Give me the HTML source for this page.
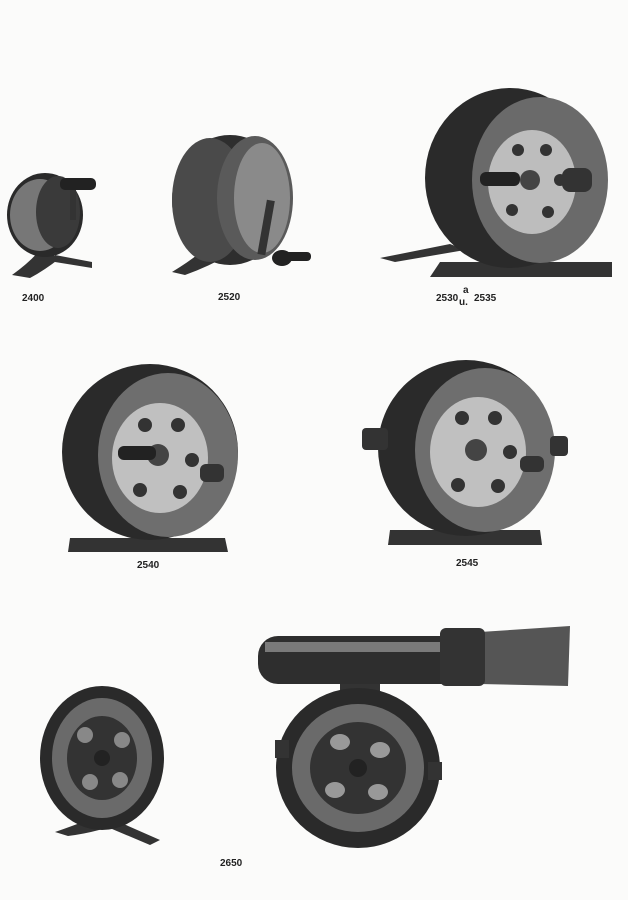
<!DOCTYPE html>
<html><head><meta charset="utf-8"><style>
html,body{margin:0;padding:0;background:#fbfbfa;}
svg{display:block}
text{font-family:"Liberation Sans",sans-serif;font-weight:bold;font-size:10px;fill:#222}
</style></head><body>
<svg width="628" height="900" viewBox="0 0 628 900" xmlns="http://www.w3.org/2000/svg">
<rect width="628" height="900" fill="#fbfbfa"/>
<!-- 2400 -->
<g>
<path d="M12 275 Q30 262 40 250 L60 258 Q45 270 30 278 Z" fill="#333"/>
<ellipse cx="45" cy="215" rx="38" ry="42" fill="#2a2a2a"/>
<ellipse cx="40" cy="215" rx="30" ry="36" fill="#777"/>
<ellipse cx="58" cy="212" rx="22" ry="36" fill="#3a3a3a"/>
<rect x="60" y="178" width="36" height="12" rx="5" fill="#222"/>
<rect x="70" y="190" width="6" height="30" fill="#333"/>
<path d="M55 255 L92 262 L92 268 L55 262 Z" fill="#333"/>
</g>
<!-- 2520 -->
<g>
<path d="M172 272 Q195 258 205 248 L230 254 Q210 266 185 275 Z" fill="#333"/>
<ellipse cx="230" cy="200" rx="58" ry="65" fill="#2e2e2e"/>
<ellipse cx="210" cy="200" rx="38" ry="62" fill="#4a4a4a"/>
<ellipse cx="255" cy="198" rx="38" ry="62" fill="#5a5a5a"/>
<ellipse cx="262" cy="198" rx="28" ry="55" fill="#8a8a8a"/>
<rect x="262" y="200" width="8" height="55" fill="#333" transform="rotate(10 266 228)"/>
<ellipse cx="282" cy="258" rx="10" ry="8" fill="#222"/>
<rect x="285" y="252" width="26" height="9" rx="4" fill="#222"/>
</g>
<!-- 2530 -->
<g>
<path d="M380 258 L450 244 L465 250 L395 262 Z" fill="#333"/>
<path d="M440 262 L612 262 L612 277 L430 277 Z" fill="#333"/>
<ellipse cx="510" cy="178" rx="85" ry="90" fill="#2a2a2a"/>
<ellipse cx="540" cy="180" rx="68" ry="83" fill="#6a6a6a"/>
<ellipse cx="532" cy="182" rx="44" ry="52" fill="#bdbdbd"/>
<g fill="#333"><circle cx="518" cy="150" r="6"/><circle cx="546" cy="150" r="6"/><circle cx="512" cy="210" r="6"/><circle cx="548" cy="212" r="6"/><circle cx="560" cy="180" r="6"/></g>
<circle cx="530" cy="180" r="10" fill="#444"/>
<rect x="480" y="172" width="40" height="14" rx="6" fill="#222"/>
<rect x="562" y="168" width="30" height="24" rx="8" fill="#333"/>
</g>
<!-- 2540 -->
<g>
<path d="M70 538 L225 538 L228 552 L68 552 Z" fill="#333"/>
<ellipse cx="150" cy="452" rx="88" ry="88" fill="#2a2a2a"/>
<ellipse cx="168" cy="455" rx="70" ry="82" fill="#6e6e6e"/>
<ellipse cx="160" cy="458" rx="48" ry="55" fill="#c0c0c0"/>
<g fill="#333"><circle cx="145" cy="425" r="7"/><circle cx="178" cy="425" r="7"/><circle cx="140" cy="490" r="7"/><circle cx="180" cy="492" r="7"/><circle cx="192" cy="460" r="7"/></g>
<circle cx="158" cy="455" r="11" fill="#444"/>
<rect x="118" y="446" width="38" height="14" rx="6" fill="#222"/>
<rect x="200" y="464" width="24" height="18" rx="6" fill="#333"/>
</g>
<!-- 2545 -->
<g>
<path d="M390 530 L540 530 L542 545 L388 545 Z" fill="#333"/>
<ellipse cx="466" cy="448" rx="88" ry="88" fill="#2a2a2a"/>
<ellipse cx="485" cy="450" rx="70" ry="82" fill="#6e6e6e"/>
<ellipse cx="478" cy="452" rx="48" ry="55" fill="#c0c0c0"/>
<g fill="#333"><circle cx="462" cy="418" r="7"/><circle cx="495" cy="418" r="7"/><circle cx="458" cy="485" r="7"/><circle cx="498" cy="486" r="7"/><circle cx="510" cy="452" r="7"/></g>
<circle cx="476" cy="450" r="11" fill="#444"/>
<rect x="362" y="428" width="26" height="22" rx="4" fill="#333"/>
<rect x="550" y="436" width="18" height="20" rx="4" fill="#333"/>
<rect x="520" y="456" width="24" height="16" rx="6" fill="#333"/>
</g>
<!-- 2650 small -->
<g>
<path d="M55 832 Q90 820 110 810 L128 820 Q100 832 68 836 Z" fill="#333"/>
<path d="M110 818 L160 840 L150 845 L105 826 Z" fill="#333"/>
<ellipse cx="102" cy="758" rx="62" ry="72" fill="#2a2a2a"/>
<ellipse cx="102" cy="758" rx="50" ry="60" fill="#6a6a6a"/>
<ellipse cx="102" cy="758" rx="35" ry="42" fill="#333"/>
<g fill="#888"><circle cx="85" cy="735" r="8"/><circle cx="122" cy="740" r="8"/><circle cx="90" cy="782" r="8"/><circle cx="120" cy="780" r="8"/></g>
<circle cx="102" cy="758" r="8" fill="#222"/>
</g>
<!-- 2650 rod -->
<g>
<rect x="258" y="636" width="230" height="48" rx="20" fill="#2e2e2e"/>
<rect x="265" y="642" width="220" height="10" fill="#7a7a7a"/>
<path d="M480 632 L570 626 L568 686 L480 684 Z" fill="#555"/>
<rect x="440" y="628" width="45" height="58" rx="6" fill="#333"/>
<rect x="340" y="684" width="40" height="18" fill="#333"/>
<ellipse cx="358" cy="768" rx="82" ry="80" fill="#2a2a2a"/>
<ellipse cx="358" cy="768" rx="66" ry="64" fill="#6a6a6a"/>
<ellipse cx="358" cy="768" rx="48" ry="46" fill="#333"/>
<g fill="#999"><ellipse cx="340" cy="742" rx="10" ry="8"/><ellipse cx="380" cy="750" rx="10" ry="8"/><ellipse cx="335" cy="790" rx="10" ry="8"/><ellipse cx="378" cy="792" rx="10" ry="8"/></g>
<circle cx="358" cy="768" r="9" fill="#222"/>
<rect x="275" y="740" width="14" height="18" fill="#333"/>
<rect x="428" y="762" width="14" height="18" fill="#333"/>
</g>
<text x="22" y="301">2400</text>
<text x="218" y="300">2520</text>
<text x="436" y="301">2530</text>
<text x="463" y="293">a</text>
<text x="459" y="305">u.</text>
<text x="474" y="301">2535</text>
<text x="137" y="568">2540</text>
<text x="456" y="566">2545</text>
<text x="220" y="866">2650</text>
</svg>
</body></html>
